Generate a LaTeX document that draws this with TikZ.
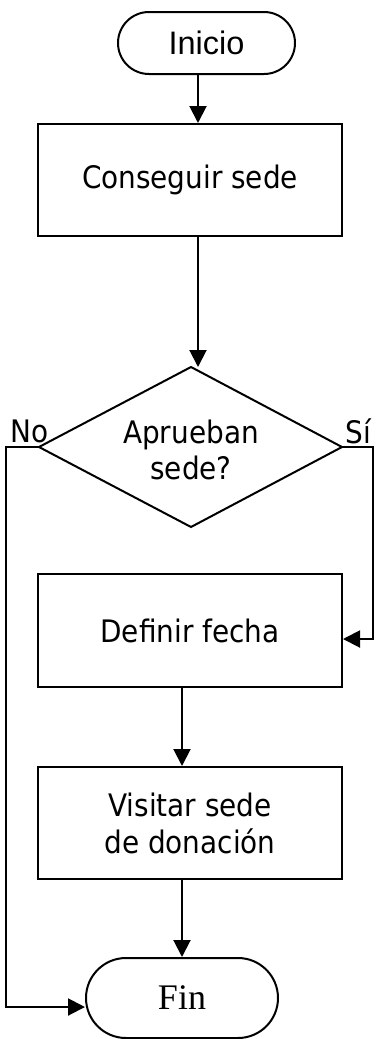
\documentclass[tikz,border=0pt]{standalone}
\usepackage{fontspec}
\setmainfont{DejaVu Sans Condensed}
\newfontfamily\arialf{Liberation Sans}
\newfontfamily\timesf{Liberation Serif}
\usetikzlibrary{shapes.misc,arrows.meta}
\begin{document}
\begin{tikzpicture}[x=1pt,y=-1pt,
  line/.style={line width=2pt},
  arr/.style={line,-{Triangle[length=17pt,width=17pt]}},
  procbox/.style={draw,line width=2pt,minimum width=304pt,minimum height=112pt,inner sep=0pt,align=center,font=\fontsize{31}{37}\selectfont},
  term/.style={draw,line width=2pt,rounded rectangle,inner sep=0pt},
  lbl/.style={inner sep=0pt,font=\fontsize{31}{37}\selectfont}]
\useasboundingbox (0,0) rectangle (376,1039);
\node[term,minimum width=177pt,minimum height=62pt,font=\arialf\fontsize{32.5}{36}\selectfont] (ini) at (206.5,43) {Inicio};
\node[procbox] (cons) at (190,180) {Conseguir sede};
\coordinate (dtop) at (191,367);
\coordinate (dright) at (342,447);
\coordinate (dbot) at (191,527);
\coordinate (dleft) at (39,447);
\draw[line,line join=miter] (dtop) -- (dright) -- (dbot) -- (dleft) -- cycle;
\node[inner sep=0pt,align=center,font=\fontsize{31}{36}\selectfont] (dec) at (191,450) {Aprueban\\sede?};
\node[procbox,minimum height=113pt] (def) at (190,630.5) {Definir fecha};
\node[procbox] (vis) at (190,823) {Visitar sede\\de donación};
\node[term,minimum width=192pt,minimum height=80pt,font=\timesf\fontsize{36}{40}\selectfont] (fin) at (182,998) {Fin};
\node[lbl] (no) at (29.5,431) {No};
\node[lbl] (si) at (358.5,431) {Sí};
\coordinate (ax) at (198,0);
\coordinate (bx) at (182,0);
\coordinate (rx) at (373,0);
\coordinate (lx) at (6,0);
\coordinate (fy) at (0,1007);
\coordinate (sy) at (0,639);
\draw[arr] (ini.south -| ax) -- (cons.north -| ax);
\draw[arr] (cons.south -| ax) -- (dtop -| ax);
\draw[arr] (dright) -- (dright -| rx) -- (rx |- sy) -- (def.east |- sy);
\draw[arr] (def.south -| bx) -- (vis.north -| bx);
\draw[arr] (vis.south -| bx) -- (fin.north -| bx);
\draw[arr] (dleft) -- (dleft -| lx) -- (lx |- fy) -- (fin.west |- fy);
\end{tikzpicture}
\end{document}
